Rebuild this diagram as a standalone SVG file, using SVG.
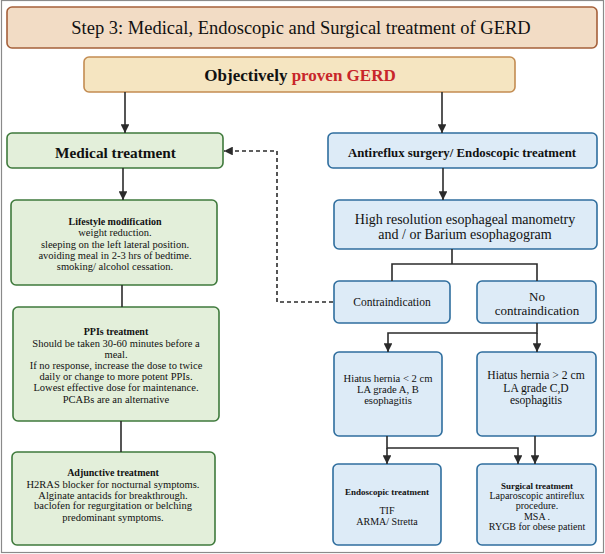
<svg xmlns="http://www.w3.org/2000/svg" width="605" height="554" viewBox="0 0 605 554">
<style>
text{font-family:"Liberation Serif","Times New Roman",serif;fill:#111;text-anchor:middle}
.b{font-weight:bold}
.green{fill:#e3efda;stroke:#3f7a3c;stroke-width:1.6}
.blue{fill:#ddebf7;stroke:#2f6e9e;stroke-width:1.6}
.ln{fill:none;stroke:#2b2b2b;stroke-width:1.6}
.arr{fill:none;stroke:#2b2b2b;stroke-width:1.6;marker-end:url(#ah)}
.dash{fill:none;stroke:#2b2b2b;stroke-width:1.6;stroke-dasharray:4 3;marker-end:url(#ah)}
.s105{font-size:10.5px}
.s10{font-size:10px}
</style>
<defs>
<marker id="ah" viewBox="0 0 10 10" refX="10" refY="5" markerWidth="5.5" markerHeight="5.5" orient="auto" markerUnits="strokeWidth">
<path d="M0,0 L10,5 L0,10 z" fill="#2b2b2b"/>
</marker>
</defs>
<rect x="1.5" y="0.5" width="602" height="552" fill="#fff" stroke="#8a8a8a" stroke-width="1.2"/>

<g id="title">
<rect x="7" y="7" width="590" height="41" rx="5" fill="#f2dcc5" stroke="#a5603a" stroke-width="1.6"/>
<text x="301" y="34" style="font-size:18.5px">Step 3: Medical, Endoscopic and Surgical treatment of GERD</text>
</g>

<g id="objectively">
<rect x="84" y="57" width="431" height="35" rx="5" fill="#f5e5c1" stroke="#c38c52" stroke-width="1.6"/>
<text x="300" y="80.5" class="b" style="font-size:17px">Objectively <tspan style="fill:#c8262a">proven GERD</tspan></text>
</g>

<g id="medical">
<rect x="7" y="133" width="216" height="35" rx="5" class="green"/>
<text x="115.5" y="157.5" class="b" style="font-size:15.3px">Medical treatment</text>
</g>

<g id="antireflux">
<rect x="328" y="133" width="269" height="35" rx="5" class="blue"/>
<text x="462" y="156.5" class="b" style="font-size:12.8px">Antireflux surgery/ Endoscopic treatment</text>
</g>

<g id="lifestyle">
<rect x="11" y="200" width="206" height="85" rx="5" class="green"/>
<text class="s105" x="115"><tspan x="115" y="224.5" class="b" style="font-size:10px">Lifestyle modification</tspan><tspan x="115" y="235.5">weight reduction.</tspan><tspan x="115" y="247.5">sleeping on the left lateral position.</tspan><tspan x="115" y="258.5">avoiding meal in 2-3 hrs of bedtime.</tspan><tspan x="115" y="269.5">smoking/ alcohol cessation.</tspan></text>
</g>

<g id="ppis">
<rect x="13" y="307" width="206" height="114" rx="5" class="green"/>
<text class="s105" x="116"><tspan x="116" y="335.3" class="b" style="font-size:10px">PPIs treatment</tspan><tspan x="116" y="346.9">Should be taken 30-60 minutes before a</tspan><tspan x="116" y="357.9">meal.</tspan><tspan x="116" y="368.6">If no response,  increase  the dose to twice</tspan><tspan x="116" y="379.6">daily or change to more potent PPIs.</tspan><tspan x="116" y="390.9">Lowest effective dose for maintenance.</tspan><tspan x="116" y="402.9">PCABs are an alternative</tspan></text>
</g>

<g id="adjunctive">
<rect x="12" y="452" width="203" height="93" rx="5" class="green"/>
<text class="s105" x="113"><tspan x="113" y="475.6" class="b" style="font-size:10px">Adjunctive treatment</tspan><tspan x="113" y="487.6">H2RAS blocker for nocturnal symptoms.</tspan><tspan x="113" y="498.6">Alginate antacids for breakthrough.</tspan><tspan x="113" y="508.6">baclofen for regurgitation or belching</tspan><tspan x="113" y="520.6">predominant symptoms.</tspan></text>
</g>

<g id="hrm">
<rect x="334" y="200" width="263" height="49" rx="5" class="blue"/>
<text style="font-size:14px"><tspan x="465" y="224">High resolution esophageal manometry</tspan><tspan x="465" y="239">and / or Barium esophagogram</tspan></text>
</g>

<g id="contraindication">
<rect x="334" y="281" width="116" height="42" rx="5" class="blue"/>
<text x="392" y="306" style="font-size:11.5px">Contraindication</text>
</g>

<g id="no-contraindication">
<rect x="477" y="281" width="119" height="42" rx="5" class="blue"/>
<text style="font-size:13px"><tspan x="537" y="300.5">No</tspan><tspan x="537" y="314.5">contraindication</tspan></text>
</g>

<g id="hiatus-small">
<rect x="334" y="352" width="108" height="84" rx="5" class="blue"/>
<text style="font-size:10.6px"><tspan x="388" y="382">Hiatus hernia &lt; 2 cm</tspan><tspan x="388" y="393">LA grade A, B</tspan><tspan x="388" y="404">esophagitis</tspan></text>
</g>

<g id="hiatus-large">
<rect x="477" y="352" width="119" height="84" rx="5" class="blue"/>
<text style="font-size:11.6px"><tspan x="536" y="379">Hiatus hernia &gt; 2 cm</tspan><tspan x="536" y="392">LA grade C,D</tspan><tspan x="536" y="404">esophagitis</tspan></text>
</g>

<g id="endoscopic">
<rect x="333" y="464" width="108" height="81" rx="5" class="blue"/>
<text class="s10"><tspan x="387" y="494.5" class="b" style="font-size:9px">Endoscopic treatment</tspan><tspan x="387" y="513.5">TIF</tspan><tspan x="387" y="524.5">ARMA/ Stretta</tspan></text>
</g>

<g id="surgical">
<rect x="477" y="464" width="119" height="81" rx="5" class="blue"/>
<text class="s10"><tspan x="537" y="488.5" class="b" style="font-size:9px">Surgical treatment</tspan><tspan x="537" y="498.5">Laparoscopic antireflux</tspan><tspan x="537" y="508.5">procedure.</tspan><tspan x="537" y="519.5">MSA .</tspan><tspan x="537" y="529.5">RYGB for obese patient</tspan></text>
</g>

<g id="connectors">
<path class="arr" d="M125 92 V133"/>
<path class="arr" d="M442 92 V133"/>
<path class="arr" d="M123 168 V200"/>
<path class="ln" d="M122 285 V307"/>
<path class="ln" d="M121 421 V452"/>
<path class="arr" d="M443 168 V200"/>
<path class="ln" d="M452 249 V264 M392 281 V264 H537 V281"/>
<path class="dash" d="M333 302 H277 V151 H224"/>
<path class="arr" d="M537 323 V333 H388 V352"/>
<path class="arr" d="M537 333 V352"/>
<path class="arr" d="M387 436 V448 H518 V464"/>
<path class="arr" d="M387 448 V464"/>
<path class="arr" d="M535 436 V464"/>
</g>
</svg>
